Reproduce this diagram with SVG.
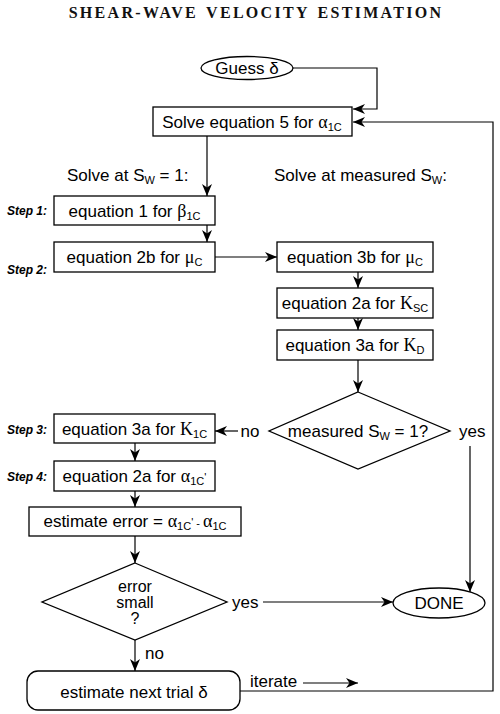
<svg xmlns="http://www.w3.org/2000/svg" width="500" height="714" viewBox="0 0 500 714">
<defs>
<style>
.t{font-family:"Liberation Sans",Arial,sans-serif;font-size:17px;fill:#000}
.c{text-anchor:middle}
.title{font-family:"Liberation Serif","Times New Roman",serif;font-size:16px;font-weight:bold;letter-spacing:2.3px;word-spacing:2px;text-anchor:middle;fill:#111}
.step{font-family:"Liberation Sans",Arial,sans-serif;font-size:12px;font-weight:bold;font-style:italic;text-anchor:end;fill:#000}
.g{font-family:"Liberation Serif","Times New Roman",serif;font-size:18px}
.sub{font-size:11px}
.box{fill:#fff;stroke:#000;stroke-width:1.3}
.ln{fill:none;stroke:#000;stroke-width:1.2}
</style>
<marker id="ah" viewBox="0 0 12 10" refX="12" refY="5" markerWidth="12" markerHeight="10" markerUnits="userSpaceOnUse" orient="auto">
<path d="M0,0 L12,5 L0,10 L3.5,5 z" fill="#000"/>
</marker>
</defs>
<rect width="500" height="714" fill="#fff"/>

<g id="title"><text x="256" y="18" class="title">SHEAR-WAVE VELOCITY ESTIMATION</text></g>

<g id="connectors">
<path class="ln" d="M293,68 H377 V109 H353" marker-end="url(#ah)"/>
<path class="ln" d="M240,691 H493 V122 H353" marker-end="url(#ah)"/>
<path class="ln" d="M207,136 V196" marker-end="url(#ah)"/>
<path class="ln" d="M207,225 V242" marker-end="url(#ah)"/>
<path class="ln" d="M215,257 H277" marker-end="url(#ah)"/>
<path class="ln" d="M358,272 V288" marker-end="url(#ah)"/>
<path class="ln" d="M358,318 V330" marker-end="url(#ah)"/>
<path class="ln" d="M358,360 V392" marker-end="url(#ah)"/>
<path class="ln" d="M238,431 H215" marker-end="url(#ah)"/>
<path class="ln" d="M470,446 V592" marker-end="url(#ah)"/>
<path class="ln" d="M135,443 V461" marker-end="url(#ah)"/>
<path class="ln" d="M135,491 V507" marker-end="url(#ah)"/>
<path class="ln" d="M135,536 V563" marker-end="url(#ah)"/>
<path class="ln" d="M263,602 H393" marker-end="url(#ah)"/>
<path class="ln" d="M135,640 V671" marker-end="url(#ah)"/>
<path class="ln" d="M303,683 H358" marker-end="url(#ah)"/>
<text x="250" y="437" class="t c">no</text>
<text x="459" y="437" class="t">yes</text>
<text x="232" y="608" class="t">yes</text>
<text x="145" y="659" class="t">no</text>
<text x="250" y="687" class="t">iterate</text>
</g>

<g id="guess">
<ellipse cx="247" cy="68" rx="46" ry="11.5" class="box"/>
<text x="247" y="74" class="t c">Guess δ</text>
</g>

<g id="solve5">
<rect x="153" y="107" width="199" height="29" class="box"/>
<text x="252" y="128" class="t c">Solve equation 5 for <tspan class="g">α</tspan><tspan class="sub" dy="3">1C</tspan></text>
</g>

<g id="head-left"><text x="67" y="181" class="t">Solve at S<tspan class="sub" dy="3">W</tspan><tspan dy="-3"> = 1:</tspan></text></g>
<g id="head-right"><text x="274" y="181" class="t">Solve at measured S<tspan class="sub" dy="3">W</tspan><tspan dy="-3">:</tspan></text></g>

<g id="step1">
<text x="47" y="215" class="step">Step 1:</text>
<rect x="54" y="196" width="161" height="29" class="box"/>
<text x="134.5" y="217" class="t c">equation 1 for <tspan class="g">β</tspan><tspan class="sub" dy="3">1C</tspan></text>
</g>

<g id="eq2b">
<rect x="54" y="242" width="161" height="30" class="box"/>
<text x="134.5" y="263" class="t c">equation 2b for <tspan class="g">μ</tspan><tspan class="sub" dy="3">C</tspan></text>
</g>

<g id="eq3b">
<rect x="277" y="242" width="156" height="30" class="box"/>
<text x="355" y="263" class="t c">equation 3b for <tspan class="g">μ</tspan><tspan class="sub" dy="3">C</tspan></text>
</g>

<g id="step2"><text x="47" y="274" class="step">Step 2:</text></g>

<g id="eq2a-ksc">
<rect x="277" y="288" width="156" height="30" class="box"/>
<text x="355" y="309" class="t c">equation 2a for <tspan class="g">K</tspan><tspan class="sub" dy="3">SC</tspan></text>
</g>

<g id="eq3a-kd">
<rect x="277" y="330" width="156" height="30" class="box"/>
<text x="355" y="351" class="t c">equation 3a for <tspan class="g">K</tspan><tspan class="sub" dy="3">D</tspan></text>
</g>

<g id="measured">
<polygon points="358,392 450,431 358,469 269,431" class="box"/>
<text x="358" y="437" class="t c">measured S<tspan class="sub" dy="3">W</tspan><tspan dy="-3"> = 1?</tspan></text>
</g>

<g id="step3">
<text x="47" y="434" class="step">Step 3:</text>
<rect x="54" y="414" width="161" height="29" class="box"/>
<text x="134.5" y="435" class="t c">equation 3a for <tspan class="g">K</tspan><tspan class="sub" dy="3">1C</tspan></text>
</g>

<g id="step4">
<text x="47" y="481" class="step">Step 4:</text>
<rect x="54" y="461" width="161" height="30" class="box"/>
<text x="134.5" y="482" class="t c">equation 2a for <tspan class="g">α</tspan><tspan class="sub" dy="3">1C</tspan><tspan class="sub" dy="-4">'</tspan></text>
</g>

<g id="estimate-error">
<rect x="29" y="507" width="212" height="29" class="box"/>
<text x="135" y="527" class="t c">estimate error =  <tspan class="g">α</tspan><tspan class="sub" dy="3">1C</tspan><tspan class="sub" dy="-4">'</tspan><tspan class="sub" dy="1"> - </tspan><tspan class="g" dy="0">α</tspan><tspan class="sub" dy="3">1C</tspan></text>
</g>

<g id="error-small">
<polygon points="135,563 227,602 135,640 42,602" class="box"/>
<text x="135" y="592" class="t c" style="font-size:16px">error</text>
<text x="135" y="608" class="t c" style="font-size:16px">small</text>
<text x="135" y="624" class="t c" style="font-size:16px">?</text>
</g>

<g id="done">
<ellipse cx="439" cy="603" rx="46" ry="15" class="box"/>
<text x="439" y="609" class="t c">DONE</text>
</g>

<g id="next-trial">
<rect x="27" y="671" width="213" height="39" rx="11" class="box"/>
<text x="134" y="698" class="t c">estimate next trial δ</text>
</g>
</svg>
